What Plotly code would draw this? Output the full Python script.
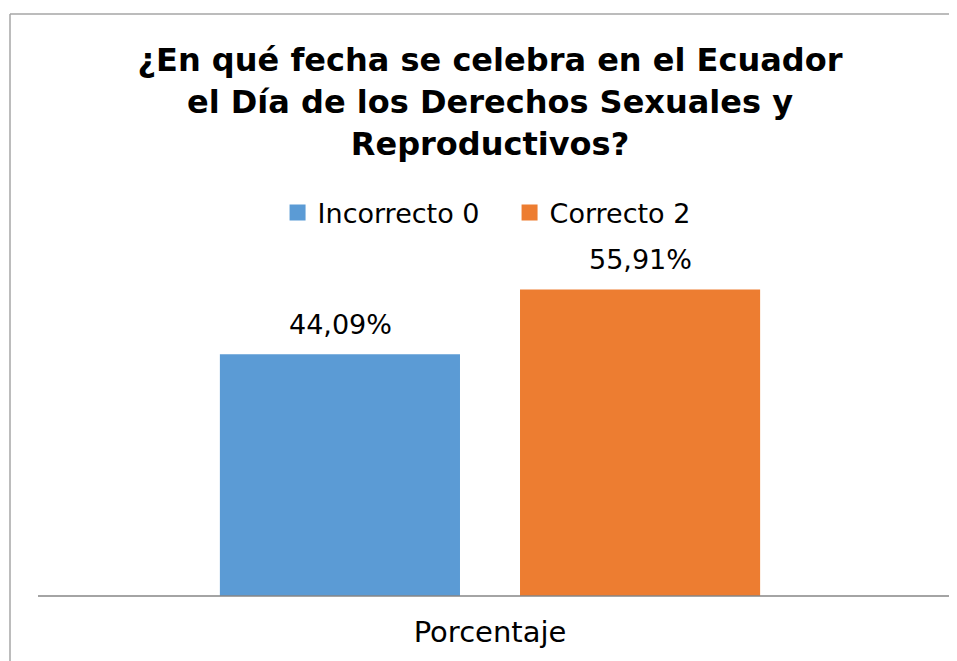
import plotly.graph_objects as go

# data
categoria = ["Porcentaje"]
series = ["Incorrecto 0", "Correcto 2"]
valores = [44.09, 55.91]
colores = ["#5B9BD5", "#ED7D31"]
etiquetas = [f"{v:.2f}".replace(".", ",") + "%" for v in valores]

titulo = "¿En qué fecha se celebra en el Ecuador<br>el Día de los Derechos Sexuales y<br>Reproductivos?"
fuente = "DejaVu Sans, Arial, sans-serif"

fig = go.Figure()
for nombre, v, c in zip(series, valores, colores):
    fig.add_bar(x=categoria, y=[v], name=nombre, marker_color=c,
                marker_line_width=0, showlegend=False)
# legend proxies with bigger square swatches
for nombre, c in zip(series, colores):
    fig.add_scatter(x=[None], y=[None], mode="markers", name=nombre,
                    marker=dict(symbol="square", size=18, color=c))

# value labels above each bar (bars sit at +-150 px from the category centre)
for i, (v, t) in enumerate(zip(valores, etiquetas)):
    fig.add_annotation(x=categoria[0], y=v, text=t, showarrow=False,
                       xshift=(i - 0.5) * 300, yshift=12, yanchor="bottom",
                       font=dict(size=27, color="#000000"))

fig.update_layout(
    width=957, height=661,
    margin=dict(l=30, r=23, t=259, b=73),
    paper_bgcolor="white", plot_bgcolor="white",
    font=dict(family=fuente, color="#000000"),
    title=dict(text=titulo, x=0.5, xref="paper", xanchor="center",
               y=0.904, yanchor="top",
               font=dict(size=32, family=fuente, color="#000000", weight="bold")),
    barmode="group", bargap=0.336, bargroupgap=0.2,
    legend=dict(orientation="h", x=0.265, xanchor="left", y=1.164, yanchor="middle",
                font=dict(size=27), entrywidth=187),
    xaxis=dict(showline=False, tickfont=dict(size=29), ticks="", ticklabelstandoff=16),
    yaxis=dict(range=[0, 60], visible=False, showgrid=False),
    shapes=[
        # axis line
        dict(type="line", xref="paper", yref="paper", x0=0, x1=(947 - 30) / 904,
             y0=0, y1=0, line=dict(color="#868686", width=1.5)),
        # chart border: only top and left edges are in view
        dict(type="line", xref="paper", yref="paper", x0=(2 - 30) / 904, x1=1.2,
             y0=(588 - 6) / 329, y1=(588 - 6) / 329, line=dict(color="#a6a6a6", width=1.5)),
        dict(type="line", xref="paper", yref="paper", x0=(2 - 30) / 904, x1=(2 - 30) / 904,
             y0=-0.4, y1=(588 - 6) / 329, line=dict(color="#a6a6a6", width=1.5)),
    ],
)

fig.write_html("out.html")
